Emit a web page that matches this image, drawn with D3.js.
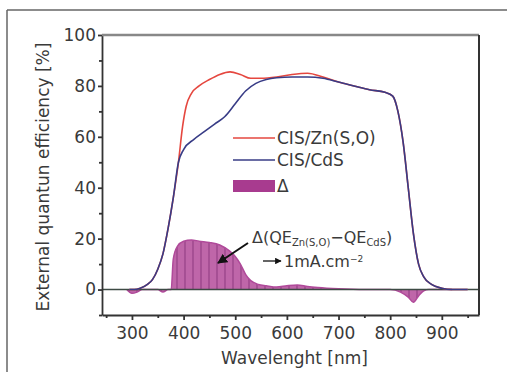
<!DOCTYPE html>
<html><head><meta charset="utf-8">
<script src="https://cdn.jsdelivr.net/npm/d3@7"></script>
<style>body{margin:0;background:#fff}svg{display:block}text{font-family:"DejaVu Sans",sans-serif;fill:#3a3a3a}</style>
</head><body>
<script>
// Data
const znWl  = [295,305,316,330,340,350,360,370,380,390,398,405,415,430,450,470,490,510,530,550,580,610,640,670,700,730,760,790,805,815,825,835,845,855,865,880,900,920,950];
const znQE  = [0,0,0.5,2,4,8,14,24,36,50,64,72,77,80,82.5,84.5,85.5,84.5,83,83,83.5,84.5,85,83.5,81.5,80,78.5,77.5,76,70,58,40,22,10,5,2,0.5,0,0];
const cdsWl = [295,305,316,330,340,350,360,370,380,390,400,420,440,460,480,500,520,540,560,580,610,640,670,700,730,760,790,805,815,825,835,845,855,865,880,900,920,950];
const cdsQE = [0,0,0.5,2,4,8,14,24,36,50,55,59,62,65,68,73,78,81,82.5,83.2,83.5,83.5,83,81.5,80,78.5,77.5,76,70,58,40,22,10,5,2,0.5,0,0];
const dWl   = [290,300,310,320,350,360,370,376,380,388,400,415,430,450,470,490,500,510,520,530,545,560,580,600,620,640,660,700,750,800,820,835,845,855,865,875,900,920];
const dQE   = [0,-1.5,-1,0,0,-1,0,0,12,17,19,19.5,19,18.5,17.5,15,13,10,6,3.5,2,1.5,1,1.5,1.8,1.2,0.8,0.3,0,0,-1,-3,-5,-2.5,-0.5,0,0,0];
const xMajor = [300,400,500,600,700,800,900];
const yMajor = [0,20,40,60,80,100];
const seriesNames = ["CIS/Zn(S,O)","CIS/CdS","Δ"];

const W=507,H=372;
const svg=d3.select("body").append("svg").attr("width",W).attr("height",H);
const L=102,R=479,T=35,B=315;
const x=d3.scaleLinear().domain([242,972]).range([L,R]);
const y=d3.scaleLinear().domain([-10,100]).range([B,T]);

// outer frame
svg.append("line").attr("x1",7).attr("x2",W).attr("y1",10).attr("y2",10).attr("stroke","#666").attr("stroke-width",1.5);
svg.append("line").attr("x1",7).attr("x2",7).attr("y1",10).attr("y2",H).attr("stroke","#666").attr("stroke-width",1.5);

const defs=svg.append("defs");
const pat=defs.append("pattern").attr("id","hatch").attr("patternUnits","userSpaceOnUse").attr("width",8).attr("height",8);
pat.append("rect").attr("width",8).attr("height",8).attr("fill","#b8559f");
pat.append("line").attr("x1",1).attr("x2",1).attr("y1",0).attr("y2",8).attr("stroke","#8a2a78").attr("stroke-width",1.2);
defs.append("clipPath").attr("id","clip").append("rect").attr("x",L).attr("y",T).attr("width",R-L).attr("height",B-T);

const g=svg.append("g").attr("clip-path","url(#clip)");
const dData=dWl.map((w,i)=>[w,dQE[i]]);
g.append("path").datum(dData)
  .attr("d",d3.area().x(d=>x(d[0])).y0(y(0)).y1(d=>y(d[1])).curve(d3.curveMonotoneX))
  .attr("fill","url(#hatch)").attr("opacity",0.9);
g.append("path").datum(dData)
  .attr("d",d3.line().x(d=>x(d[0])).y(d=>y(d[1])).curve(d3.curveMonotoneX))
  .attr("fill","none").attr("stroke","#b04a9a").attr("stroke-width",1.5);
// zero line
g.append("line").attr("x1",L).attr("x2",R).attr("y1",y(0)).attr("y2",y(0)).attr("stroke","#3d4a44").attr("stroke-width",1.5);

const line=d3.line().x(d=>x(d[0])).y(d=>y(d[1])).curve(d3.curveMonotoneX);
g.append("path").datum(znWl.map((w,i)=>[w,znQE[i]])).attr("d",line).attr("fill","none").attr("stroke","#e5473f").attr("stroke-width",1.6);
g.append("path").datum(cdsWl.map((w,i)=>[w,cdsQE[i]])).attr("d",line).attr("fill","none").attr("stroke","#383c86").attr("stroke-width",1.6);

// axes
const xMinor=d3.range(250,972,50).filter(v=>!xMajor.includes(v));
const yMinor=d3.range(-10,101,10).filter(v=>!yMajor.includes(v));
const ax=svg.append("g").attr("transform",`translate(0,${B})`);
ax.call(d3.axisBottom(x).tickValues(xMajor).tickSize(5).tickPadding(7).tickSizeOuter(0));
ax.append("g").call(d3.axisBottom(x).tickValues(xMinor).tickSize(3).tickFormat("")).select(".domain").remove();
const ay=svg.append("g").attr("transform",`translate(${L},0)`);
ay.call(d3.axisLeft(y).tickValues(yMajor).tickSize(4).tickPadding(2).tickSizeOuter(0));
ay.append("g").call(d3.axisLeft(y).tickValues(yMinor).tickSize(3).tickFormat("")).select(".domain").remove();
svg.selectAll(".tick text").style("font-size","17px").style("font-family","DejaVu Sans").attr("fill","#3a3a3a");
svg.selectAll(".domain,.tick line").attr("stroke","#333").attr("stroke-width",1.8);
// top and right
svg.append("line").attr("x1",L).attr("x2",R).attr("y1",T).attr("y2",T).attr("stroke","#888").attr("stroke-width",2.5);
svg.append("line").attr("x1",R).attr("x2",R).attr("y1",T).attr("y2",B).attr("stroke","#333").attr("stroke-width",2);

// axis titles
svg.append("text").attr("x",(L+R)/2+4).attr("y",364).attr("text-anchor","middle").style("font-size","17px").text("Wavelenght [nm]");
svg.append("text").attr("transform",`translate(49,${(T+B)/2+2}) rotate(-90)`).attr("text-anchor","middle").style("font-size","17px").text("External quantun efficiency [%]");

// legend
const lg=svg.append("g");
lg.append("line").attr("x1",233).attr("x2",275).attr("y1",138).attr("y2",138).attr("stroke","#e5473f").attr("stroke-width",1.6);
lg.append("line").attr("x1",233).attr("x2",275).attr("y1",160).attr("y2",160).attr("stroke","#383c86").attr("stroke-width",1.6);
lg.append("rect").attr("x",233).attr("y",180).attr("width",42).attr("height",12).attr("fill","#a83b8f");
[[138,0],[160,1],[186,2]].forEach(([yy,i])=>lg.append("text").attr("x",277).attr("y",yy+6).style("font-size","17px").text(seriesNames[i]));

// annotation
const an=svg.append("text").attr("x",252).attr("y",243).style("font-size","16px");
an.append("tspan").text("Δ(QE");
an.append("tspan").attr("dy",3).style("font-size","10px").text("Zn(S,O)");
an.append("tspan").attr("dy",-3).text("−QE");
an.append("tspan").attr("dy",3).style("font-size","10px").text("CdS");
an.append("tspan").attr("dy",-3).text(")");
defs.append("marker").attr("id","ah").attr("viewBox","0 0 10 10").attr("refX",9).attr("refY",5).attr("markerWidth",5).attr("markerHeight",5).attr("orient","auto")
  .append("path").attr("d","M0,0L10,5L0,10z").attr("fill","#111");
svg.append("line").attr("x1",248).attr("y1",243).attr("x2",218).attr("y2",263).attr("stroke","#111").attr("stroke-width",2).attr("marker-end","url(#ah)");
svg.append("line").attr("x1",263).attr("y1",261).attr("x2",281).attr("y2",261).attr("stroke","#111").attr("stroke-width",1.3).attr("marker-end","url(#ah)");
const t2=svg.append("text").attr("x",284).attr("y",267).style("font-size","16px");
t2.append("tspan").text("1mA.cm");
t2.append("tspan").attr("dy",-5).style("font-size","9px").text("−2");
</script>
</body></html>
